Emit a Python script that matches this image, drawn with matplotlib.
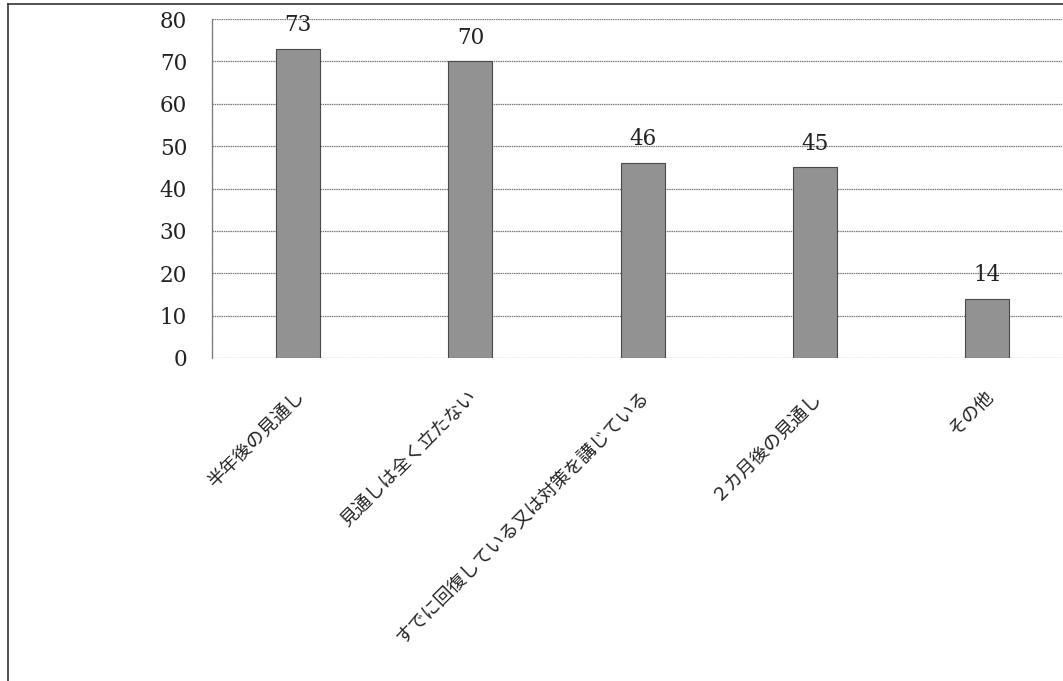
import matplotlib
matplotlib.use('Agg')
import matplotlib.pyplot as plt
from matplotlib.lines import Line2D

categories = ['半年後の見通し', '見通しは全く立たない', 'すでに回復している又は対策を講じている',
              '２カ月後の見通し', 'その他']
values = [73, 70, 46, 45, 14]
y_ticks = [0, 10, 20, 30, 40, 50, 60, 70, 80]

fig = plt.figure(figsize=(10.63, 6.81), dpi=100)
ax = fig.add_axes([212 / 1063, 1 - 358 / 681, 1 - 212 / 1063, (358 - 19) / 681])

x = list(range(len(categories)))
bars = ax.bar(x, values, width=0.255, color='#929292', edgecolor='#4a4a4a',
              linewidth=0.8, zorder=3)

# value labels above each bar
for xi, v in zip(x, values):
    ax.text(xi, v + 3.0, str(v), ha='center', va='bottom',
            family='DejaVu Serif', fontsize=15.5, color='#222222', clip_on=False)

ax.set_ylim(0, 80)
ax.set_xlim(-0.5, 4.44)
ax.set_yticks(y_ticks)
ax.set_yticklabels([str(t) for t in y_ticks], family='DejaVu Serif', fontsize=15.5,
                   color='#222222')
ax.tick_params(axis='y', length=0, pad=18)
ax.yaxis.grid(True, color='#7a7a7a', linewidth=0.9, linestyle=(0, (1.2, 0.6)), zorder=0)

ax.set_xticks(x)
ax.set_xticklabels([])
ax.tick_params(axis='x', length=0)
for xi, lab in zip(x, categories):
    ax.text(xi + 0.02, -8.5, lab, rotation=45, ha='right', va='center',
            rotation_mode='anchor', fontsize=13.2, color='#222222',
            family=['Noto Sans CJK JP', 'DejaVu Sans'])

for side in ['top', 'right', 'bottom']:
    ax.spines[side].set_visible(False)
ax.spines['left'].set_color('#7a7a7a')
ax.spines['left'].set_linestyle((0, (1.2, 0.6)))
ax.spines['left'].set_linewidth(0.9)

# outer frame (top and left edges visible in the scan)
fig.add_artist(Line2D([8 / 1063, 1], [1 - 4 / 681, 1 - 4 / 681],
                      transform=fig.transFigure, color='#333333', linewidth=1.2))
fig.add_artist(Line2D([8 / 1063, 8 / 1063], [0, 1 - 4 / 681],
                      transform=fig.transFigure, color='#333333', linewidth=1.2))

fig.savefig('out.png', dpi=100)
